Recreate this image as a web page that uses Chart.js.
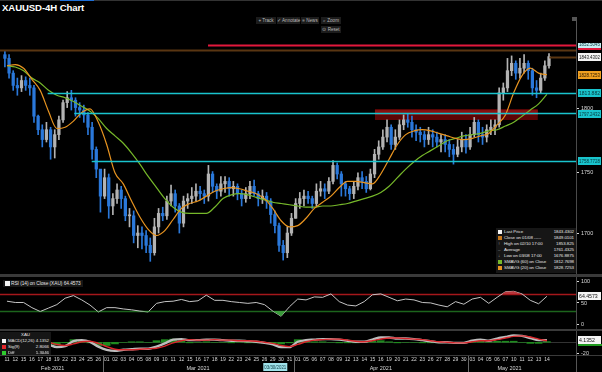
<!DOCTYPE html>
<html>
<head>
<meta charset="utf-8">
<script src="https://cdn.jsdelivr.net/npm/chart.js@4.4.1/dist/chart.umd.min.js"></script>
<style>
  body { margin: 0; width: 602px; height: 372px; background: #000; position: relative; overflow: hidden;
         font-family: "Liberation Sans", Arial, sans-serif; color: #ddd; }
  canvas { position: absolute; left: 0; display: block; }
  #title { position: absolute; left: 2px; top: 2px; font-size: 9.6px; font-weight: bold; color: #fff; letter-spacing: -0.1px; }
  #topline { position: absolute; left: 0; top: 0; width: 602px; height: 1px; background: #333; }
  #topblue { position: absolute; left: 60px; top: 0; width: 34px; height: 1px; background: #1f6fd6; }
  .btn { position: absolute; height: 7px; line-height: 7px; font-size: 4.6px; color: #bbb; background: #1c1c1c;
         text-align: center; white-space: nowrap; }
  .sep { position: absolute; left: 0; width: 602px; background: #3a3a3a; }
  .box { position: absolute; background: #161616; font-size: 4.4px; line-height: 6px; color: #e6e6e6; white-space: nowrap;
         letter-spacing: -0.05px; }
  .row { position: relative; height: 6px; }
  .row i { position: absolute; left: 2px; top: 1px; width: 4px; height: 4px; font-style: normal; }
  .row span { position: absolute; left: 8px; }
  .row b { position: absolute; right: 2px; font-weight: normal; }
</style>
</head>
<body>
<div id="topline"></div><div id="topblue"></div>
<div id="title">XAUUSD-4H Chart</div>
<div class="btn" style="left:256px;top:17px;width:20px">+ Track</div>
<div class="btn" style="left:277px;top:17px;width:23px">✓ Annotate</div>
<div class="btn" style="left:301px;top:17px;width:18px">≡ News</div>
<div class="btn" style="left:321px;top:17px;width:20px">⌕ Zoom</div>
<div class="btn" style="left:321px;top:26px;width:20px">⊙ Reset</div>
<div class="btn" style="left:572px;top:17px;width:4px;height:4px;background:#555"></div>
<div class="sep" style="left:576px;top:17px;width:1px;height:26px;background:#555"></div>

<canvas id="priceChart" width="602" height="231" style="top:43px"></canvas>
<canvas id="rsiChart" width="602" height="53" style="top:277px"></canvas>
<canvas id="macdChart" width="602" height="41" style="top:331px"></canvas>
<div class="sep" style="top:274px;height:3px"></div>
<div class="sep" style="top:329px;height:2px"></div>
<div id="priceLegend" class="box" style="left:496px;top:228px;width:80px;height:44px;padding-top:1px"></div>
<div id="rsiLegend" class="box" style="left:3px;top:280px;height:7px;line-height:7px;padding:0 2px 0 8px;font-size:4.8px"></div>
<div id="macdLegend" class="box" style="left:0;top:332px;width:51px;height:23px"></div>

<script>
// 4H gold chart: price with SMAs, RSI(14) and MACD panels, one Chart.js instance per panel.
// ---------- data (x unit = trading day, 0 = Feb 11 2021) ----------
const dayLabels = ['11','12','15','16','17','18','19','22','23','24','25','26',
  '01','02','03','04','05','08','09','10','11','12','15','16','17','18','19','22','23','24','25','26','29','30','31',
  '01','05','06','07','08','09','12','13','14','15','16','19','20','21','22','23','26','27','28','29','30',
  '03','04','05','06','07','10','11','12','13','14'];
const monthNames = ['Feb 2021', 'Mar 2021', 'Apr 2021', 'May 2021'];
const monthFirstDay = [0, 12, 35, 56];

// two candles per trading day
const firstOpen = 1845;
const closes = [1842,1830, 1820,1818, 1824,1820, 1818,1795, 1784,1776, 1784,1770, 1780,1792, 1806,1810, 1808,1802, 1800,1796,
  1786,1768, 1752,1730, 1745,1722, 1728,1735, 1728,1714, 1714,1698, 1700,1698, 1690,1684, 1705,1716, 1714,1726,
  1732,1722, 1708,1726, 1728,1730, 1734,1732, 1730,1748, 1738,1734, 1740,1742, 1736,1738, 1732,1728, 1732,1738,
  1732,1728, 1730,1726, 1715,1706, 1690,1684, 1700,1712, 1724,1728, 1730,1728, 1724,1734, 1736,1734, 1742,1755,
  1748,1740, 1736,1732, 1738,1745, 1742,1736, 1748,1764, 1770,1778, 1786,1772, 1778,1788, 1792,1790, 1784,1782,
  1780,1776, 1780,1778, 1774,1776, 1772,1768, 1764,1770, 1776,1770, 1780,1790, 1780,1778, 1784,1786, 1788,1814,
  1818,1832, 1838,1830, 1834,1838, 1832,1818, 1816,1826, 1836,1843.43];
const highs = [1848,1845, 1832,1826, 1828,1827, 1826,1820, 1796,1788, 1790,1786, 1784,1795, 1808,1815, 1816,1810, 1806,1804,
  1798,1790, 1770,1750, 1752,1748, 1732,1740, 1738,1730, 1720,1718, 1706,1705, 1702,1696, 1712,1720, 1721,1730,
  1739,1735, 1724,1730, 1732,1737, 1740,1738, 1735,1755, 1750,1740, 1746,1746, 1745,1742, 1740,1735, 1737,1742,
  1743,1734, 1735,1733, 1728,1718, 1708,1694, 1705,1716, 1728,1733, 1735,1734, 1730,1740, 1742,1740, 1745,1759,
  1757,1750, 1742,1738, 1742,1749, 1750,1746, 1752,1768, 1775,1784, 1792,1788, 1784,1792, 1796,1797, 1795,1788,
  1786,1783, 1786,1784, 1782,1780, 1780,1776, 1772,1776, 1782,1780, 1786,1794, 1792,1786, 1788,1792, 1792,1818,
  1822,1842, 1844,1840, 1842,1845, 1840,1834, 1824,1830, 1840,1846];
const lows = [1835,1826, 1816,1812, 1815,1816, 1812,1790, 1780,1770, 1774,1760, 1761,1776, 1790,1802, 1800,1795, 1794,1790,
  1780,1760, 1745,1717, 1728,1712, 1715,1724, 1720,1710, 1705,1692, 1688,1687, 1684,1677, 1682,1700, 1710,1711,
  1722,1717, 1700,1705, 1720,1724, 1726,1727, 1724,1726, 1733,1728, 1730,1733, 1730,1730, 1727,1722, 1725,1728,
  1730,1722, 1724,1720, 1708,1700, 1685,1678, 1680,1698, 1712,1720, 1722,1724, 1720,1722, 1730,1728, 1732,1740,
  1744,1730, 1730,1727, 1728,1735, 1736,1733, 1735,1745, 1760,1768, 1774,1768, 1768,1776, 1784,1786, 1778,1775,
  1774,1770, 1772,1770, 1770,1766, 1766,1762, 1756,1762, 1766,1765, 1768,1778, 1774,1772, 1774,1780, 1780,1786,
  1808,1815, 1828,1825, 1826,1830, 1825,1812, 1810,1814, 1824,1834];

const sma20 = [1836,1837,1834,1825,1816,1799,1785,1786,1791,1798,1801,1790,1772,1749,1740,1726,1713,1703,1698,1702,
  1711,1720,1724,1726,1730,1734,1736,1737,1736,1734,1732,1728,1720,1710,1705,1706,1712,1720,1725,1730,
  1737,1742,1742,1741,1740,1748,1760,1772,1780,1783,1784,1783,1781,1779,1777,1776,1777,1779,1781,1788,
  1796,1814,1828,1834,1830,1828.73];
const sma60 = [1836,1835,1832,1826,1822,1816,1812,1810,1807,1803,1799,1793,1785,1779,1773,1765,1756,1746,1737,1728,
  1721,1717,1716,1716,1716,1721,1728,1731,1732,1731,1729,1727,1725,1724,1723,1722,1721,1721,1722,1722,
  1723,1724,1726,1728,1730,1733,1738,1745,1752,1758,1763,1767,1771,1775,1777,1779,1780,1781,1783,1784,
  1787,1790,1795,1800,1805,1812.77];

const rsi14 = [53,50,50,38,29,37,45,60,66,56,44,28,38,38,35,33,30,28,48,52,
  53,57,52,54,67,55,55,52,50,48,50,45,30,18,40,58,56,63,62,70,
  52,44,42,52,68,70,62,54,58,56,50,49,44,40,52,46,58,62,48,62,
  75,76,70,55,47,64.46];

const macd = [3,3,3,2,0,-4,-9,-7,2,4,1,-8,-14,-16,-14,-13,-12,-12,-8,-2,
  5,6,4,4,5,5,4,3,3,2,1,-1,-4,-9,-9,1,4,5,6,6,
  5,3,1,1,5,9,9,7,7,6,4,2,0,0,-1,-1,3,5,3,7,
  10,13,12,8,4,4.14];
const signal = [3,3,3,3,2,0,-4,-6,-3,1,2,-2,-8,-13,-14,-14,-13,-12,-11,-7,
  -1,3,5,4,4,5,4,4,3,3,2,0,-2,-6,-8,-4,1,4,5,6,
  6,4,2,1,3,6,8,8,7,6,5,3,1,0,-1,-1,1,3,3,5,
  8,11,12,10,6,2.81];
const diff = [0,0,0,-1,-2,-4,-5,-1,5,3,-1,-6,-6,-3,0,1,1,0,3,5,
  6,3,-1,0,1,0,0,-1,0,-1,-1,-1,-2,-3,-1,5,3,1,1,0,
  -1,-1,-1,0,2,3,1,-1,0,0,-1,-1,-1,0,0,0,2,2,0,2,
  2,2,0,-2,-2,1.3];

// horizontal levels drawn on the price panel: value, first day, kind
const levelValues = [1849.0101, 1852.5045, 1843.4302, 1813.882, 1797.2432, 1758.7728];
const levelStart = [-0.84, 24.2, 65.3, 4.9, 8.1, 10.2];
const levelKind = ['close', 'high', 'last', 'support', 'support', 'support'];
const zoneDays = [44.3, 63.9];
const zonePrices = [1791.9, 1800.8];
const priceTicks = [1700, 1750, 1800];

const legendNames = ['Last Price', 'Close on 01/08 -----', 'High on 02/10 17:00', 'Average', 'Low on 03/08 17:00',
  'SMAVG (60) on Close', 'SMAVG (20) on Close'];
const legendValues = ['1843.4302', '1849.0101', '1853.825', '1761.4325', '1676.8875', '1812.7698', '1828.7253'];
const rsiLast = '64.4573';
const macdNames = ['MACD(12,26)', 'Sig(9)', 'Diff'];
const macdValues = ['4.1352', '2.8066', '1.3046'];
const cursorDay = 32.3;
const cursorText = '03/30/2021';

// ---------- helpers ----------
const X_MIN = -0.84, X_MAX = 68.5;
const FONT = '"Liberation Sans", Arial, sans-serif';
const tone = {
  up: '#b3b3b3', down: '#2a78da', sma20: '#e89420', sma60: '#76b82a', cyan: '#19c4cd',
  red: '#e3183c', brown: '#5a3612', axis: '#4a4a4a', text: '#d8d8d8',
};
const candleX = (i) => Math.floor(i / 2) + (i % 2 ? 0.25 : -0.25);
const opens = closes.map((c, i) => (i ? closes[i - 1] : firstOpen));
const candleColor = (i) => (closes[i] >= opens[i] ? tone.up : tone.down);
const byDay = (arr) => arr.map((v, d) => ({ x: d, y: v }));

function xAxis() {
  return { type: 'linear', min: X_MIN, max: X_MAX, display: false, offset: false };
}
function yAxis(min, max) {
  return {
    position: 'right', min, max,
    ticks: { display: false }, grid: { display: false },
    border: { display: true, color: tone.axis, width: 1 },
    afterFit: (s) => { s.width = 26; },
  };
}
function baseOptions(yMin, yMax, padBottom = 0) {
  return {
    responsive: false, animation: false, events: [],
    layout: { padding: { left: 0, right: 0, top: 0, bottom: padBottom } },
    plugins: { legend: { display: false }, tooltip: { enabled: false } },
    scales: { x: xAxis(), y: yAxis(yMin, yMax) },
  };
}
function tag(ctx, yPix, text, bg, fg) {
  ctx.fillStyle = bg;
  ctx.fillRect(578, Math.round(yPix) - 4, 23, 8);
  ctx.fillStyle = fg;
  ctx.font = `5.2px ${FONT}`;
  ctx.textAlign = 'left';
  ctx.textBaseline = 'middle';
  ctx.fillText(text, 579, Math.round(yPix) + 0.5, 21);
}
function tickLabel(ctx, yPix, text) {
  ctx.fillStyle = tone.text;
  ctx.fillRect(577, Math.round(yPix), 2, 1);
  ctx.font = `5.5px ${FONT}`;
  ctx.textAlign = 'left';
  ctx.textBaseline = 'middle';
  ctx.fillText(text, 581, yPix + 0.5);
}

// ---------- price panel ----------
const priceOverlay = {
  id: 'priceOverlay',
  beforeDatasetsDraw(chart) {
    const { ctx, scales: { x, y } } = chart;
    const x0 = x.getPixelForValue(zoneDays[0]), x1 = x.getPixelForValue(zoneDays[1]);
    const yt = y.getPixelForValue(zonePrices[1]), yb = y.getPixelForValue(zonePrices[0]);
    ctx.save();
    ctx.fillStyle = '#5c0505';
    ctx.fillRect(x0, yt, x1 - x0, yb - yt);
    ctx.fillStyle = '#861010';
    ctx.fillRect(x0, yt + 1, x1 - x0, (yb - yt) * 0.45);
    ctx.restore();
  },
  afterDatasetsDraw(chart) {
    const { ctx, chartArea: a, scales: { x, y } } = chart;
    ctx.save();
    levelValues.forEach((v, i) => {
      const kind = levelKind[i];
      ctx.strokeStyle = kind === 'high' ? tone.red : kind === 'support' ? tone.cyan : tone.brown;
      ctx.lineWidth = kind === 'support' ? 1.6 : 2;
      const py = Math.round(y.getPixelForValue(v)) + 0.5;
      ctx.beginPath();
      ctx.moveTo(x.getPixelForValue(levelStart[i]), py);
      ctx.lineTo(a.right, py);
      ctx.stroke();
    });
    ctx.restore();
  },
  afterDraw(chart) {
    const { ctx, scales: { y } } = chart;
    ctx.save();
    priceTicks.forEach((t) => tickLabel(ctx, y.getPixelForValue(t) - (t === 1800 ? 2 : 0), String(t)));
    levelValues.forEach((v, i) => {
      const kind = levelKind[i];
      const py = y.getPixelForValue(v);
      if (kind === 'high') {
        ctx.fillStyle = tone.red;
        ctx.fillRect(578, Math.round(py) - 4, 23, 9);
        tag(ctx, py - 1, v.toFixed(4), '#c4eef2', '#0b3a40');
      } else if (kind === 'last') {
        tag(ctx, py, v.toFixed(4), '#f4f4f4', '#111');
      } else if (kind === 'support') {
        const shift = v === 1797.2432 ? 1 : 0;
        tag(ctx, py + shift, String(v), tone.cyan, '#06363a');
      }
    });
    tag(ctx, y.getPixelForValue(sma20[sma20.length - 1]), '1828.7253', '#f0a020', '#2a1800');
    ctx.restore();
  },
};

new Chart(document.getElementById('priceChart'), {
  type: 'bar',
  data: {
    datasets: [
      {
        label: 'wick', order: 3, grouped: false, barThickness: 1,
        data: closes.map((c, i) => ({ x: candleX(i), y: [lows[i], highs[i]] })),
        backgroundColor: (c) => candleColor(c.dataIndex),
      },
      {
        label: 'body', order: 2, grouped: false, barThickness: 2.6, minBarLength: 1,
        data: closes.map((c, i) => ({ x: candleX(i), y: [opens[i], c] })),
        backgroundColor: (c) => candleColor(c.dataIndex),
      },
      {
        type: 'line', label: 'SMAVG (60)', order: 1, data: byDay(sma60),
        borderColor: tone.sma60, borderWidth: 1.2, pointRadius: 0, cubicInterpolationMode: 'monotone',
      },
      {
        type: 'line', label: 'SMAVG (20)', order: 0, data: byDay(sma20),
        borderColor: tone.sma20, borderWidth: 1.2, pointRadius: 0, cubicInterpolationMode: 'monotone',
      },
    ],
  },
  options: baseOptions(1666.7, 1854.5),
  plugins: [priceOverlay],
});

// ---------- RSI panel ----------
const rsiOverlay = {
  id: 'rsiOverlay',
  beforeDatasetsDraw(chart) {
    const { ctx, chartArea: a, scales: { y } } = chart;
    ctx.save();
    [[70, '#a4171b'], [30, '#1c641c']].forEach(([v, col]) => {
      const py = Math.round(y.getPixelForValue(v)) + 0.5;
      ctx.strokeStyle = col; ctx.lineWidth = 1.6;
      ctx.beginPath(); ctx.moveTo(a.left, py); ctx.lineTo(a.right, py); ctx.stroke();
    });
    ctx.restore();
  },
  afterDraw(chart) {
    const { ctx, scales: { y } } = chart;
    ctx.save();
    [100, 50, 0].forEach((t) => tickLabel(ctx, y.getPixelForValue(t), String(t)));
    tag(ctx, y.getPixelForValue(rsi14[rsi14.length - 1]), rsiLast, '#f4f4f4', '#111');
    ctx.restore();
  },
};

new Chart(document.getElementById('rsiChart'), {
  type: 'line',
  data: {
    datasets: [
      {
        label: 'overbought', data: byDay(rsi14), borderWidth: 0, pointRadius: 0,
        fill: { target: { value: 70 }, above: '#b8353a', below: 'transparent' },
      },
      {
        label: 'oversold', data: byDay(rsi14), borderWidth: 0, pointRadius: 0,
        fill: { target: { value: 30 }, above: 'transparent', below: '#3a9a3a' },
      },
      { label: 'RSI', data: byDay(rsi14), borderColor: '#c4c4c4', borderWidth: 1, pointRadius: 0 },
    ],
  },
  options: baseOptions(-14, 109.3),
  plugins: [rsiOverlay],
});

// ---------- MACD panel + date axis ----------
const macdOverlay = {
  id: 'macdOverlay',
  beforeDatasetsDraw(chart) {
    const { ctx, chartArea: a, scales: { y } } = chart;
    const py = Math.round(y.getPixelForValue(0)) + 0.5;
    ctx.save();
    ctx.strokeStyle = '#333'; ctx.lineWidth = 1;
    ctx.beginPath(); ctx.moveTo(a.left, py); ctx.lineTo(a.right, py); ctx.stroke();
    ctx.restore();
  },
  afterDraw(chart) {
    const { ctx, chartArea: a, scales: { x, y } } = chart;
    ctx.save();
    tickLabel(ctx, y.getPixelForValue(-20), '-20');
    ctx.fillStyle = '#1f9a1f';
    ctx.fillRect(578, Math.round(y.getPixelForValue(-3)), 24, 2);
    tag(ctx, y.getPixelForValue(macd[macd.length - 1]), macdValues[0], '#f4f4f4', '#111');

    // date axis
    const top = a.bottom;
    ctx.fillStyle = '#3a3a3a';
    ctx.fillRect(0, top, 602, 1);
    ctx.fillStyle = '#555';
    ctx.fillRect(576, top, 1, 17);
    ctx.font = `5px ${FONT}`;
    ctx.textAlign = 'center';
    ctx.textBaseline = 'middle';
    ctx.fillStyle = tone.text;
    dayLabels.forEach((t, d) => ctx.fillText(t, x.getPixelForValue(d), top + 5));
    monthNames.forEach((m, k) => {
      const first = monthFirstDay[k];
      const last = k + 1 < monthFirstDay.length ? monthFirstDay[k + 1] - 1 : dayLabels.length - 1;
      if (k > 0) {
        ctx.fillStyle = '#6a6a6a';
        ctx.fillRect(Math.round(x.getPixelForValue(first - 0.5)), top + 1, 1, 16);
      }
      ctx.fillStyle = tone.text;
      ctx.font = `5.5px ${FONT}`;
      ctx.fillText(m, x.getPixelForValue((first + last) / 2), top + 13);
    });
    const cx = x.getPixelForValue(cursorDay);
    ctx.fillStyle = '#9fe2ea';
    ctx.fillRect(cx - 12, top + 8, 24, 8);
    ctx.fillStyle = '#0d3d44';
    ctx.fillText(cursorText, cx, top + 12.5, 22);
    ctx.restore();
  },
};

new Chart(document.getElementById('macdChart'), {
  type: 'bar',
  data: {
    datasets: [
      {
        label: 'Diff', order: 3, data: byDay(diff), backgroundColor: '#1f8a1f',
        barThickness: 7, grouped: false,
      },
      {
        type: 'line', label: 'MACD', order: 2, data: byDay(macd),
        borderColor: '#bdbdbd', borderWidth: 2.4, pointRadius: 0, cubicInterpolationMode: 'monotone',
      },
      {
        type: 'line', label: 'Sig', order: 1, data: byDay(signal),
        borderColor: '#d8262b', borderWidth: 1.4, pointRadius: 0, cubicInterpolationMode: 'monotone',
      },
    ],
  },
  options: baseOptions(-23.7, 21.1, 17),
  plugins: [macdOverlay],
});

// ---------- legends ----------
const priceSwatches = ['#f4f4f4', '#c8781a', null, null, null, tone.sma60, tone.sma20];
const priceMarks = ['', '', '↑', '–', '↓', '', ''];
document.getElementById('priceLegend').innerHTML = legendNames.map((n, i) => {
  const sw = priceSwatches[i]
    ? `<i style="background:${priceSwatches[i]}"></i>`
    : `<i style="top:0;color:#aaa">${priceMarks[i]}</i>`;
  return `<div class="row">${sw}<span>${n}</span><b>${legendValues[i]}</b></div>`;
}).join('');
document.getElementById('rsiLegend').innerHTML =
  `<i style="position:absolute;left:2px;top:1px;width:5px;height:5px;background:#f4f4f4"></i>RSI (14) on Close (XAU) ${rsiLast}`;
const macdSwatches = ['#f4f4f4', '#e3262b', '#2ecc2e'];
document.getElementById('macdLegend').innerHTML =
  `<div class="row" style="text-align:center">XAU</div>` +
  macdNames.map((n, i) => `<div class="row"><i style="background:${macdSwatches[i]}"></i><span>${n}</span><b>${macdValues[i]}</b></div>`).join('');
</script>
</body>
</html>
